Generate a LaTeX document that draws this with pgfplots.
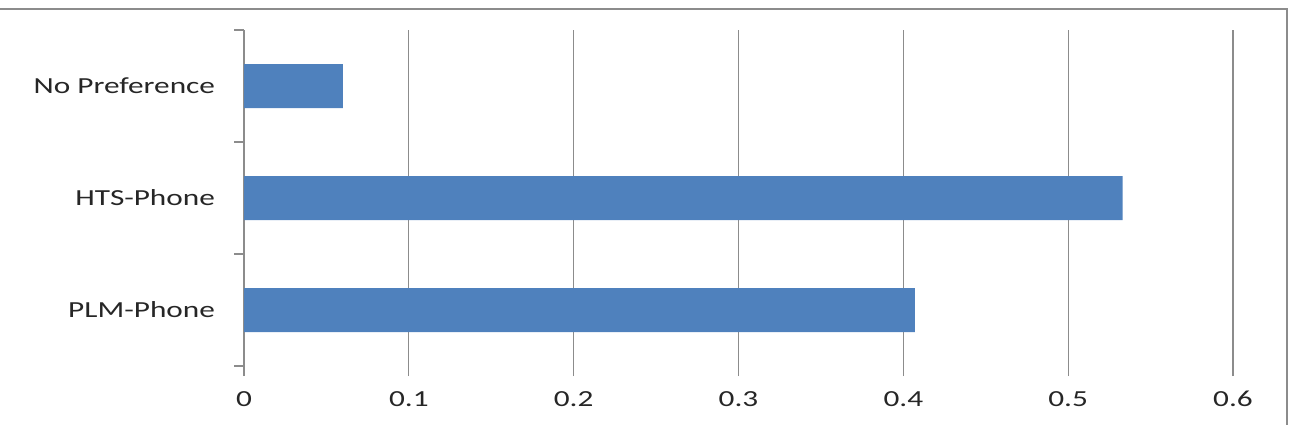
\documentclass[border=0pt]{standalone}
\usepackage{fontspec}
\setmainfont{Carlito}[FakeStretch=1.36]
\usepackage{pgfplots}
\pgfplotsset{compat=1.18}
\definecolor{barblue}{HTML}{4F81BD}
\definecolor{gridgray}{HTML}{8C8C8C}
\begin{document}
\begin{tikzpicture}[x=1pt,y=1pt]
\path[use as bounding box] (0,0) rectangle (646.5,212.5);
\draw[gridgray,line width=1pt] (0,208) -- (643.5,208) -- (643.5,0);
\begin{axis}[
  at={(122pt,29.5pt)}, anchor=south west,
  scale only axis, width=494.5pt, height=168pt,
  xbar, bar width=22pt,
  xmin=0, xmax=0.6, ymin=-0.5, ymax=2.5,
  xtick={0,0.1,...,0.6},
  xticklabels={0,0.1,0.2,0.3,0.4,0.5,0.6},
  ytick={0,1,2},
  yticklabels={PLM-Phone,HTS-Phone,No Preference},
  minor ytick={-0.5,0.5,1.5,2.5},
  major y tick style={draw=none},
  minor tick length=5pt,
  major tick length=5pt,
  tick align=outside,
  xmajorgrids, grid style={gridgray, line width=0.6pt},
  separate axis lines,
  axis x line*=bottom,
  x axis line style={draw=none},
  x tick style={gridgray, line width=0.6pt},
  y tick style={gridgray, line width=0.8pt},
  axis y line*=left,
  y axis line style={gridgray, line width=0.8pt},
  tick label style={font=\fontsize{11.5}{12}\selectfont, text=black!85},
  xticklabel style={yshift=-4pt},
  yticklabel style={xshift=-6pt},
  /pgf/number format/assume math mode=true,
  clip=false,
]
\addplot[fill=barblue, draw=none] coordinates {(0.407,0) (0.533,1) (0.060,2)};
\end{axis}
\end{tikzpicture}
\end{document}
